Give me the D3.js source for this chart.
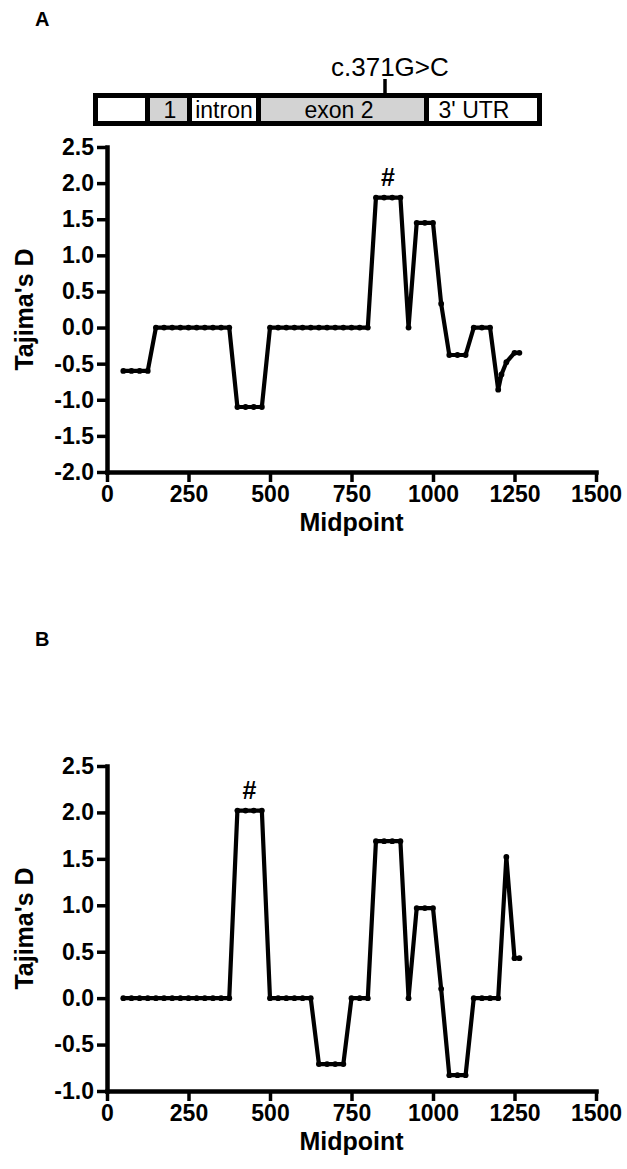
<!DOCTYPE html>
<html>
<head>
<meta charset="utf-8">
<script src="https://cdn.jsdelivr.net/npm/d3@7"></script>
<style>
  body { margin: 0; background: #fff; }
  svg { display: block; font-family: "Liberation Sans", Arial, sans-serif; }
</style>
</head>
<body>
<svg id="fig" width="627" height="1169"></svg>
<script>
// panel A: sliding-window Tajima's D
const midA = [50, 75, 100, 125,
    150, 175, 200, 225, 250, 275, 300, 325, 350, 375,
    400, 425, 450, 475,
    500, 525, 550, 575, 600, 625, 650, 675, 700, 725, 750, 775, 800,
    825, 850, 875, 900, 925, 950, 975, 1000, 1025,
    1050, 1075, 1100, 1125, 1150, 1175, 1200, 1210, 1225, 1250, 1265];
const tdA = [-0.6, -0.6, -0.6, -0.6,
    0, 0, 0, 0, 0, 0, 0, 0, 0, 0,
    -1.1, -1.1, -1.1, -1.1,
    0, 0, 0, 0, 0, 0, 0, 0, 0, 0, 0, 0, 0,
    1.8, 1.8, 1.8, 1.8, 0, 1.45, 1.45, 1.45, 0.33,
    -0.38, -0.38, -0.38, 0, 0, 0, -0.86, -0.65, -0.48, -0.35, -0.35];

// panel B
const midB = [50, 75, 100, 125, 150, 175, 200, 225, 250, 275, 300, 325, 350, 375,
    400, 425, 450, 475,
    500, 525, 550, 575, 600, 625,
    650, 675, 700, 725,
    750, 775, 800,
    825, 850, 875, 900, 925, 950, 975, 1000, 1025,
    1050, 1075, 1100, 1125, 1150, 1175, 1200, 1225, 1250, 1265];
const tdB = [0, 0, 0, 0, 0, 0, 0, 0, 0, 0, 0, 0, 0, 0,
    2.02, 2.02, 2.02, 2.02,
    0, 0, 0, 0, 0, 0,
    -0.71, -0.71, -0.71, -0.71,
    0, 0, 0,
    1.69, 1.69, 1.69, 1.69, 0, 0.97, 0.97, 0.97, 0.1,
    -0.83, -0.83, -0.83, 0, 0, 0, 0, 1.52, 0.43, 0.43];

const xTicks = [0, 250, 500, 750, 1000, 1250, 1500];
const yTicksA = [2.5, 2.0, 1.5, 1.0, 0.5, 0.0, -0.5, -1.0, -1.5, -2.0];
const yTicksB = [2.5, 2.0, 1.5, 1.0, 0.5, 0.0, -0.5, -1.0];

// gene model: segment bounds (px inside box), fill, label
const geneSegs = [
    { x0: 98, x1: 145, fill: "#fff", label: "", lx: 0 },
    { x0: 150, x1: 187, fill: "#d3d3d3", label: "1", lx: 170 },
    { x0: 192, x1: 256, fill: "#fff", label: "intron", lx: 224 },
    { x0: 261, x1: 424, fill: "#d3d3d3", label: "exon 2", lx: 339 },
    { x0: 429, x1: 537, fill: "#fff", label: "3' UTR", lx: 474 }
];

const svg = d3.select("#fig");

// gene diagram
const gene = svg.append("g");
gene.append("rect").attr("x", 93).attr("y", 93).attr("width", 449).attr("height", 33).attr("fill", "#000");
gene.selectAll("rect.seg").data(geneSegs).join("rect")
    .attr("class", "seg")
    .attr("x", d => d.x0).attr("y", 98)
    .attr("width", d => d.x1 - d.x0).attr("height", 23)
    .attr("fill", d => d.fill);
gene.selectAll("text.seg").data(geneSegs).join("text")
    .attr("class", "seg")
    .attr("x", d => d.lx).attr("y", 118)
    .attr("text-anchor", "middle")
    .style("font-size", "23px")
    .text(d => d.label);
gene.append("line").attr("x1", 385).attr("x2", 385).attr("y1", 79).attr("y2", 94)
    .attr("stroke", "#000").attr("stroke-width", 3.5);
gene.append("text").attr("x", 331).attr("y", 76)
    .style("font-size", "26px").text("c.371G>C");

const fmtY = d => d3.format(".1f")(d).replace("\u2212", "-");

function panel(cfg) {
    const x = d3.scaleLinear().domain([0, 1500]).range([107, 596]);
    const y = d3.scaleLinear().domain(cfg.yDomain).range(cfg.yRange);
    const g = svg.append("g");

    g.append("text").attr("x", 35).attr("y", cfg.letterY)
        .style("font-size", "20px").style("font-weight", "bold").text(cfg.letter);

    const yAx = g.append("g").attr("transform", "translate(107,0)")
        .call(d3.axisLeft(y).tickValues(cfg.yTicks).tickFormat(fmtY)
            .tickSize(10).tickSizeOuter(0).tickPadding(3));
    const xAx = g.append("g").attr("transform", `translate(0,${cfg.yRange[0]})`)
        .call(d3.axisBottom(x).tickValues(xTicks).tickFormat(d3.format("d"))
            .tickSize(10).tickSizeOuter(0).tickPadding(4));

    [yAx, xAx].forEach(ax => {
        ax.select(".domain").attr("stroke-width", 4.5).attr("stroke-linecap", "square");
        ax.selectAll(".tick line").attr("stroke-width", 3.5);
        ax.selectAll("text").style("font-size", "23px").style("font-weight", "bold")
            .style("font-family", "'Liberation Sans', Arial, sans-serif").attr("fill", "#000");
    });

    const mid = (cfg.yRange[0] + cfg.yRange[1]) / 2;
    g.append("text")
        .attr("transform", `translate(33,${mid}) rotate(-90)`)
        .attr("text-anchor", "middle")
        .style("font-size", "25px").style("font-weight", "bold")
        .text("Tajima's D");
    g.append("text")
        .attr("x", 351.5).attr("y", cfg.yRange[0] + 59)
        .attr("text-anchor", "middle")
        .style("font-size", "25px").style("font-weight", "bold")
        .text("Midpoint");

    const pts = cfg.xs.map((v, i) => [v, cfg.ys[i]]);
    g.append("path").datum(pts)
        .attr("fill", "none").attr("stroke", "#000").attr("stroke-width", 4.2)
        .attr("stroke-linejoin", "round")
        .attr("d", d3.line().x(d => x(d[0])).y(d => y(d[1])));
    g.selectAll("circle").data(pts).join("circle")
        .attr("cx", d => x(d[0])).attr("cy", d => y(d[1])).attr("r", 2.9).attr("fill", "#000");

    g.append("text")
        .attr("x", x(cfg.hashX)).attr("y", y(cfg.hashY) - 12)
        .attr("text-anchor", "middle")
        .style("font-size", "25px").style("font-weight", "bold")
        .text("#");
}

panel({ letter: "A", letterY: 26, yDomain: [-2, 2.5], yRange: [472, 147], yTicks: yTicksA,
        xs: midA, ys: tdA, hashX: 862, hashY: 1.8 });
panel({ letter: "B", letterY: 646, yDomain: [-1, 2.5], yRange: [1091, 766], yTicks: yTicksB,
        xs: midB, ys: tdB, hashX: 437, hashY: 2.02 });
</script>
</body>
</html>
